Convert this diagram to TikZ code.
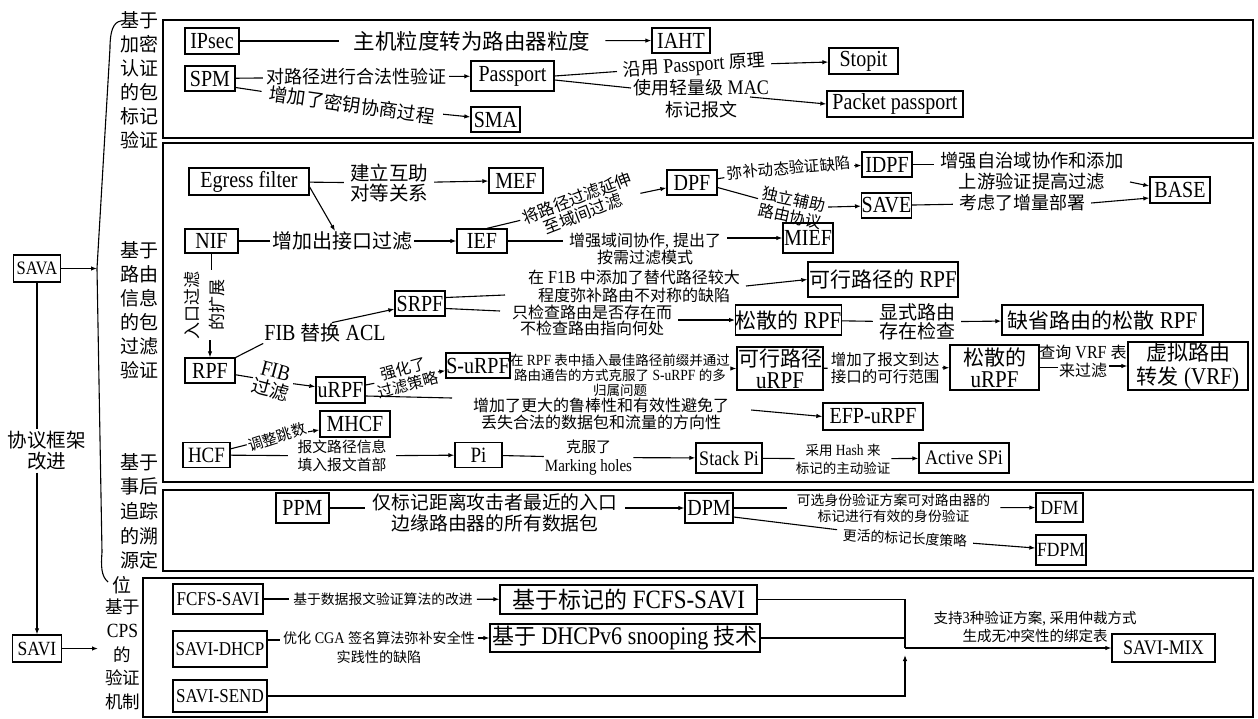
\documentclass[tikz,border=0pt]{standalone}
\usepackage{fontspec}
\setmainfont[Scale=1.15, FakeStretch=0.87]{Liberation Serif}
\newfontfamily\cjkf{Noto Sans CJK SC}
\usetikzlibrary{arrows.meta}
\XeTeXinterchartokenstate=1
\newXeTeXintercharclass\cjkcls
\newcount\cjkcnt
\cjkcnt="2E80
\loop\ifnum\cjkcnt<"A000 \XeTeXcharclass\cjkcnt=\cjkcls \advance\cjkcnt by 1 \repeat
\cjkcnt="FF00
\loop\ifnum\cjkcnt<"FFF0 \XeTeXcharclass\cjkcnt=\cjkcls \advance\cjkcnt by 1 \repeat
\XeTeXinterchartoks 0 \cjkcls = {\cjkf}
\XeTeXinterchartoks 4095 \cjkcls = {\cjkf}
\XeTeXinterchartoks \cjkcls 0 = {\rmfamily}
\XeTeXinterchartoks \cjkcls 4095 = {\rmfamily}
\newcommand\fz[2]{\fontsize{#1}{#2}\selectfont}
\tikzset{
  bx/.style={draw, line width=1.3pt, inner sep=0pt, align=center, font=\fz{20}{22}},
  lb/.style={inner xsep=6pt, inner ysep=1pt, align=center},
  ln/.style={line width=1.1pt},
  ar/.style={line width=1.1pt, -{Latex[length=6pt,width=4.5pt]}},
  sec/.style={line width=1.4pt},
  seclbl/.style={align=center, inner sep=0pt},
}
\begin{document}
\begin{tikzpicture}[x=1pt, y=-1pt]
\useasboundingbox (0,0) rectangle (1258,718);
% section frames
\draw[sec] (163,20) rectangle (1253,138);
\draw[sec] (163,143) rectangle (1253,482);
\draw[sec] (163,490) rectangle (1253,571);
\draw[sec] (143,578) rectangle (1253,717);
% section labels
\node[seclbl, font=\fz{19}{24}] (s1) at (139,80) {基于\\加密\\认证\\的包\\标记\\验证};
\node[seclbl, font=\fz{19}{24}] (s2) at (139,310) {基于\\路由\\信息\\的包\\过滤\\验证};
\node[seclbl, font=\fz{19}{24.6}] (s3) at (139,511.2) {基于\\事后\\追踪\\的溯\\源定};
\node[seclbl, font=\fz{19}{24}] (s3b) at (122,585) {位};
\node[seclbl, font=\fz{17.5}{23.8}] (s4) at (122.5,654.5) {基于\\CPS\\的\\验证\\机制};
% left column
\node[bx, font=\fz{16.5}{20}, minimum width=47, minimum height=27] (sava) at (37,268.5) {SAVA};
\node[bx, font=\fz{17.5}{20}, minimum width=49, minimum height=27] (savi) at (37,648.5) {SAVI};
\node[font=\fz{19.5}{21}, align=center, fill=white, inner sep=2pt] (xy) at (47,451) {协议框架\\改进};
\draw[ln] (sava.south) -- (sava.south |- xy.north);
\draw[ar] (savi.north |- xy.south) -- (savi.north);
\coordinate (bt) at (97,268.5);
\coordinate (bb) at (98,648.5);
\draw[ln] (121,21) .. controls (113,22) and (110,32) .. (110,48) -- (bt) -- (102,552) .. controls (101,566) and (101,576) .. (108,582);
\draw[ar] (sava) -- (bt);
\draw[ar] (savi) -- (bb);

% ===== top section
\node[bx, minimum width=54, minimum height=26] (ipsec) at (212,41) {IPsec};
\node[bx, minimum width=58, minimum height=25] (iaht) at (681,40.5) {IAHT};
\node[bx, minimum width=50, minimum height=25] (spm) at (210,78.5) {SPM};
\node[bx, minimum width=83, minimum height=30] (passport) at (512.5,76) {Passport};
\node[bx, minimum width=49, minimum height=25] (sma) at (495.5,119.5) {SMA};
\node[bx, minimum width=69, minimum height=26] (stopit) at (863.5,61) {Stopit};
\node[bx, minimum width=136, minimum height=26] (pp) at (895,104) {Packet passport};
\node[lb, font=\fz{21.5}{23}, inner xsep=15pt] (t1) at (472,41) {主机粒度转为路由器粒度};
\draw[ln] (ipsec) -- (t1);
\draw[ar] (t1) -- (iaht);
\node[lb, font=\fz{18}{20}, inner xsep=3pt] (t2) at (356,77) {对路径进行合法性验证};
\draw[ln] (spm) -- (t2);
\draw[ar] (t2) -- (passport);
\node[lb, font=\fz{18.5}{20}, rotate=-8, inner xsep=8pt] (t3) at (352,105) {增加了密钥协商过程};
\draw[ln] ([yshift=-9pt]spm.east) -- (t3);
\draw[ar] (t3) -- (sma);
\node[lb, font=\fz{18}{20}, rotate=4] (t4) at (694,66) {沿用 Passport 原理};
\draw[ln] (passport.east) -- (t4);
\draw[ar] (t4) -- (stopit);
\node[lb, font=\fz{18}{22}] (t5) at (701,99) {使用轻量级 MAC\\标记报文};
\coordinate (t5a) at (631,88);
\coordinate (t5b) at (750,97);
\draw[ln] ([yshift=-4pt]passport.east) -- (t5a);
\draw[ar] (t5b) -- (pp.west);

% ===== routing section
\node[bx, minimum width=120, minimum height=27] (egress) at (249,181.5) {Egress filter};
\node[bx, minimum width=54, minimum height=25] (mef) at (516,180.5) {MEF};
\node[lb, font=\fz{19.5}{20}] (jl) at (389,183) {建立互助\\对等关系};
\draw[ln] (egress) -- (jl);
\draw[ar] (jl) -- (mef);
\coordinate (egd) at (335,231);
\draw[ar] ([yshift=-5.5pt]egress.east) -- (egd);

\node[bx, minimum width=53, minimum height=24] (nif) at (211.5,241) {NIF};
\node[bx, minimum width=50, minimum height=24] (ief) at (482,241) {IEF};
\node[lb, font=\fz{20}{22}, inner xsep=2pt] (zj) at (342,241) {增加出接口过滤};
\draw[ln] (nif) -- (zj);
\draw[ar] (zj) -- (ief);

\node[bx, minimum width=50, minimum height=25] (dpf) at (692,182.5) {DPF};
\node[lb, font=\fz{16.5}{17}, rotate=21, inner xsep=3pt] (jl2) at (580,206) {将路径过滤延伸\\至域间过滤};
\draw[ln] ([xshift=5pt]ief.north) -- (jl2);
\draw[ar] (jl2) -- (dpf);

\node[bx, minimum width=50, minimum height=25] (idpf) at (887,164.5) {IDPF};
\node[bx, minimum width=49, minimum height=25] (save) at (886.5,205.5) {SAVE};
\node[lb, font=\fz{15.5}{17}, rotate=5, inner xsep=3pt] (mb) at (789,168) {弥补动态验证缺陷};
\draw[ln] (dpf) -- (mb);
\draw[ar] (mb) -- (idpf);
\node[lb, font=\fz{16}{17}, rotate=-12, inner xsep=3pt] (dl) at (792,208) {独立辅助\\路由协议};
\draw[ln] ([yshift=-5pt]dpf.east) -- (dl);
\draw[ar] (dl) -- (save);

\node[bx, minimum width=60, minimum height=26] (base) at (1180,190) {BASE};
\node[lb, font=\fz{18.3}{21}] (zq) at (1032,171.5) {增强自治域协作和添加\\上游验证提高过滤};
\draw[ln] (idpf.east) -- (idpf.east -| zq.west);
\coordinate (zqa) at (1130,182);
\draw[ar] (zqa) -- ([yshift=4pt]base.west);
\node[lb, font=\fz{18}{20}] (kl) at (1022,203) {考虑了增量部署};
\draw[ln] (save) -- (kl);
\draw[ar] (kl.east) -- ([yshift=-8pt]base.west);

\node[bx, minimum width=50, minimum height=30] (mief) at (808,238) {MIEF};
\node[lb, font=\fz{16}{17}] (zq2) at (645,248.5) {增强域间协作, 提出了\\按需过滤模式};
\draw[ln] (ief.east) -- (ief.east -| zq2.west);
\draw[ar] (mief.west -| zq2.east) -- (mief.west);

\node[bx, minimum width=150, minimum height=35, font=\fz{21}{22}] (kxr) at (883,279.5) {可行路径的 RPF};
\node[bx, minimum width=50, minimum height=25] (srpf) at (420,303.5) {SRPF};
\node[lb, font=\fz{16}{18}] (zj3) at (634,286) {在 F1B 中添加了替代路径较大\\程度弥补路由不对称的缺陷};
\coordinate (sr1) at (505,295);
\draw[ln] ([yshift=6pt]srpf.east) -- (sr1);
\draw[ar] (zj3.east) -- (kxr.west);
\node[lb, font=\fz{16}{16}] (zj4) at (592,320) {只检查路由是否存在而\\不检查路由指向何处};
\coordinate (sr3) at (500,311);
\draw[ln] ([yshift=-5pt]srpf.east) -- (sr3);
\node[bx, minimum width=105, minimum height=30, font=\fz{21}{22}] (ssr) at (788.5,320) {松散的 RPF};
\draw[ar] (zj4.east) -- (ssr.west);
\node[lb, font=\fz{19}{17.5}] (xs) at (917,322) {显式路由\\存在检查};
\node[bx, minimum width=201, minimum height=30, font=\fz{21}{22}] (qs) at (1102.5,320) {缺省路由的松散 RPF};
\draw[ln] (ssr) -- (xs);
\draw[ar] (xs) -- (qs);

\node[bx, minimum width=50, minimum height=25] (rpf) at (210,370.5) {RPF};
\node[font=\fz{17}{25}, rotate=90, align=center, inner sep=1pt] (rk) at (204.5,305) {入口过滤\\的扩展};
\draw[ln] (nif.south) -- (nif.south |- rk.east);
\draw[ar] (rpf.north |- rk.west) -- (rpf.north);

\node[lb, font=\fz{20}{22}, inner sep=1pt] (fa) at (325,333) {FIB 替换 ACL};
\draw[ln] (rpf) -- (fa.south west);
\draw[ar] ([xshift=7pt]fa.north) -- (srpf);

\node[bx, minimum width=49, minimum height=26] (urpf) at (340.5,390) {uRPF};
\node[lb, font=\fz{19}{19}, rotate=-15, inner sep=1pt] (fg) at (273,381) {FIB\\过滤};
\draw[ln] (rpf) -- (fg);
\draw[ar] (fg) -- (urpf);

\node[bx, minimum width=64, minimum height=25] (surpf) at (478,365.5) {S-uRPF};
\node[lb, font=\fz{15.5}{17}, rotate=15, inner sep=1pt] (qh) at (406,377) {强化了\\过滤策略};
\draw[ln] (urpf) -- (qh);
\draw[ar] (qh) -- (surpf);

\node[lb, font=\fz{13.5}{15}, inner xsep=1pt] (zr) at (620,375) {在 RPF 表中插入最佳路径前缀并通过\\路由通告的方式克服了 S-uRPF 的多\\归属问题};
\draw[ln] (surpf.east) -- (surpf.east -| zr.west);
\node[bx, minimum width=86, minimum height=43, font=\fz{21}{22}] (kxu) at (780,368.5) {可行路径\\uRPF};
\draw[ar] (kxu.west -| zr.east) -- (kxu.west);

\node[lb, font=\fz{15.5}{16.5}, inner xsep=3pt] (zb) at (885,368) {增加了报文到达\\接口的可行范围};
\node[bx, minimum width=89, minimum height=45, font=\fz{21}{22}] (ssu) at (994.5,367.5) {松散的\\uRPF};
\draw[ln] (kxu) -- (zb);
\draw[ar] (zb) -- (ssu);

\node[lb, font=\fz{16}{18}] (cx) at (1083,361) {查询 VRF 表\\来过滤};
\node[bx, minimum width=120, minimum height=48, font=\fz{21}{24}] (vrf) at (1188,366) {虚拟路由\\转发 (VRF)};
\draw[ln] (ssu.east) -- ([xshift=18pt]ssu.east);
\draw[ar] ([xshift=-18pt]vrf.west) -- (vrf.west);

\node[lb, font=\fz{16}{17}] (zd) at (601,414) {增加了更大的鲁棒性和有效性避免了\\丢失合法的数据包和流量的方向性};
\node[bx, minimum width=100, minimum height=27] (efp) at (873,416.5) {EFP-uRPF};
\coordinate (zd1) at (452,398);
\draw[ln] ([yshift=-6pt]urpf.east) -- (zd1);
\draw[ar] ([xshift=16pt,yshift=4pt]zd.east) -- (efp.west);

\node[bx, minimum width=70, minimum height=26] (mhcf) at (355,424) {MHCF};
\node[bx, font=\fz{19}{21}, minimum width=47, minimum height=25] (hcf) at (206.5,455) {HCF};
\node[lb, font=\fz{15}{17}, rotate=18, inner sep=1pt] (tz) at (277,437) {调整跳数};
\draw[ln] (hcf) -- (tz);
\draw[ar] (tz) -- (mhcf);
\node[lb, font=\fz{14.8}{18}, inner xsep=9.5pt] (bw) at (342,456) {报文路径信息\\填入报文首部};
\node[bx, font=\fz{19}{21}, minimum width=47, minimum height=25] (pi) at (478.5,455) {Pi};
\draw[ln] (hcf) -- (bw);
\draw[ar] (bw) -- (pi);
\node[lb, font=\fz{15}{19}, inner xsep=1pt] (kf) at (588.5,457.5) {克服了\\Marking holes};
\node[bx, font=\fz{18}{20}, minimum width=66, minimum height=30] (spi) at (729,458) {Stack Pi};
\draw[ln] (pi) -- (kf);
\draw[ar] (kf) -- (spi);
\node[lb, font=\fz{13.5}{18}, fill=white, inner xsep=1pt] (hs) at (843,459) {采用 Hash 来\\标记的主动验证};
\node[bx, font=\fz{18}{20}, minimum width=90, minimum height=30] (aspi) at (964,458) {Active SPi};
\draw[ln] (spi) -- (hs);
\draw[ar] (hs) -- (aspi);

% ===== traceback section
\node[bx, minimum width=53, minimum height=30] (ppm) at (302.5,508) {PPM};
\node[lb, font=\fz{18.8}{21}, inner xsep=8pt] (jb) at (495,512.5) {仅标记距离攻击者最近的入口\\边缘路由器的所有数据包};
\draw[ln] (ppm.east) -- (ppm.east -| jb.west);
\node[bx, minimum width=48, minimum height=30] (dpm) at (709,508) {DPM};
\draw[ar] (dpm.west -| jb.east) -- (dpm.west);
\node[lb, font=\fz{13.8}{16}, fill=white, inner xsep=10pt] (kx) at (893.5,508) {可选身份验证方案可对路由器的\\标记进行有效的身份验证};
\node[bx, font=\fz{17.5}{20}, minimum width=47, minimum height=29] (dfm) at (1059.5,507.5) {DFM};
\draw[ln] (dpm) -- (kx);
\draw[ar] (kx) -- (dfm);
\node[lb, font=\fz{13.8}{16}, rotate=-3] (gh) at (905,538) {更活的标记长度策略};
\node[bx, font=\fz{17.5}{20}, minimum width=50, minimum height=30] (fdpm) at (1061,550) {FDPM};
\draw[ln] ([yshift=-9pt]dpm.east) -- (gh);
\draw[ar] (gh) -- (fdpm);

% ===== CPS section
\node[bx, font=\fz{17}{20}, minimum width=90, minimum height=30] (fcfs) at (218,599) {FCFS-SAVI};
\node[lb, font=\fz{13.8}{16}, inner xsep=4pt] (jy) at (383,599) {基于数据报文验证算法的改进};
\node[bx, minimum width=257, minimum height=29, font=\fz{23}{25}] (jbf) at (628.5,599.5) {基于标记的 FCFS-SAVI};
\draw[ln] (fcfs) -- (jy);
\draw[ar] (jy) -- (jbf);
\node[bx, font=\fz{17}{20}, minimum width=94, minimum height=36] (sdhcp) at (220,649) {SAVI-DHCP};
\node[lb, font=\fz{14.1}{19}, inner xsep=3pt] (yh) at (379,647.5) {优化 CGA 签名算法弥补安全性\\实践性的缺陷};
\node[bx, minimum width=270, minimum height=28, font=\fz{22}{24}] (jd) at (625,638) {基于 DHCPv6 snooping 技术};
\draw[ln] ([yshift=9pt]sdhcp.east) -- ([yshift=9pt]sdhcp.east -| yh.west);
\draw[ar] (jd.west -| yh.east) -- (jd.west);
\node[bx, font=\fz{17}{20}, minimum width=94, minimum height=32] (ssend) at (220,696) {SAVI-SEND};
\coordinate (mg) at (905,648);
\coordinate (mgs) at (905,655);
\node[bx, font=\fz{18}{20}, minimum width=103, minimum height=28] (mix) at (1163.5,648) {SAVI-MIX};
\node[lb, font=\fz{14.5}{18}] (zc) at (1035,627) {支持3种验证方案, 采用仲裁方式\\生成无冲突性的绑定表};
\draw[ln] (jbf.east) -| (mg);
\draw[ln] (jd.east) -- (jd.east -| mg);
\draw[ar] (ssend.east) -| (mgs);
\draw[ar] (mg) -- (mix.west);
\end{tikzpicture}
\end{document}
